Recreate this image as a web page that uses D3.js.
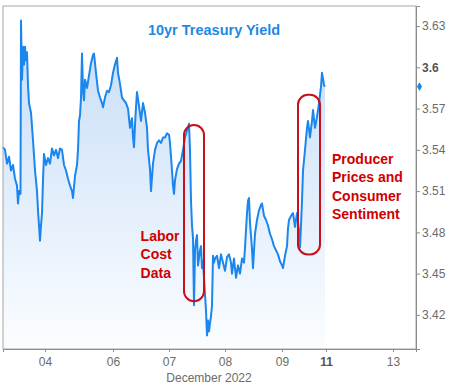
<!DOCTYPE html>
<html>
<head>
<meta charset="utf-8">
<script src="https://cdn.jsdelivr.net/npm/d3@7"></script>
<style>
  body { margin: 0; background: #fff; }
  text { font-family: "Liberation Sans", Arial, sans-serif; }
  .axis text { fill: #6b6b6b; font-size: 12px; }
  .note { fill: #d00000; font-size: 14px; font-weight: bold; }
</style>
</head>
<body>
<div id="chart"></div>
<script>
var width = 450, height = 385,
    plot = { left: 3, right: 416, top: 6, bottom: 349 };

// session steps along the x axis (weekends squeezed out, like the original chart)
var steps = [0, 1, 2, 3, 4, 5, 6, 7, 7.5, 8, 8.75, 9, 9.5, 10, 10.5, 11, 11.5, 12, 12.5, 13,
    14, 15, 16, 17, 17.5, 18, 18.5, 19, 19.5, 20, 20.5, 21.5, 22.5, 23.5, 24.5, 25.5, 26.5,
    27.5, 28.5, 29.5, 30.5, 31.5, 32.5, 33.5, 34.5, 35, 36, 37, 37.5, 38, 38.5, 39, 39.5, 40,
    40.5, 41, 42, 43, 44, 45, 45.5, 46.5, 47.5, 48.5, 49.5, 50, 51, 52, 53, 54, 55, 56, 57,
    57.5, 58.5, 59.5, 60.5, 61.5, 62.5, 63.5, 64.5, 65, 65.5, 66, 66.5, 67, 68, 69, 70, 71, 72,
    72.5, 73.5, 74, 75, 76, 77, 78, 79, 80, 81, 82, 83, 83.5, 84.5, 85, 85.5, 86, 87, 88, 89,
    90, 91, 92, 93, 93.5, 94, 94.5, 95, 95.5, 96, 96.5, 97, 97.5, 98.5, 99, 99.5, 100, 100.5,
    101, 101.5, 102, 102.5, 103, 103.5, 104, 104.5, 105, 105.5, 106, 107, 108, 109, 110, 111,
    112, 113, 114, 114.5, 115.5, 116.5, 117.5, 118.5, 119.5, 120.5, 121, 122, 122.5, 123,
    123.5, 124.5, 125, 126, 127, 128, 129, 129.5, 130.5, 131.5, 132.5, 133.5, 134.5, 135.5,
    136.5, 137.5, 138.5, 139.5, 140, 141, 142, 142.5, 143, 144, 145, 146, 147, 148, 148.5,
    149, 149.5, 150, 151, 152, 152.5, 153.5, 154.5, 155, 156, 157, 158, 159, 159.5, 160,
    160.5, 161];

var yields = [3.542, 3.540, 3.530, 3.535, 3.525, 3.529, 3.519, 3.514, 3.501, 3.510, 3.508,
    3.634, 3.591, 3.615, 3.602, 3.615, 3.605, 3.611, 3.587, 3.574,
    3.567, 3.547, 3.525, 3.510, 3.496, 3.485, 3.474, 3.485, 3.494, 3.518, 3.537, 3.529, 3.534,
    3.530, 3.541, 3.536, 3.540, 3.534, 3.541, 3.540, 3.529, 3.525, 3.519, 3.514, 3.510, 3.505,
    3.521, 3.529, 3.540, 3.561, 3.565, 3.578, 3.610, 3.583,
    3.576, 3.591, 3.585, 3.594, 3.603, 3.609, 3.610, 3.596, 3.583, 3.578, 3.574, 3.571, 3.578,
    3.583, 3.582, 3.587, 3.596, 3.602, 3.607,
    3.596, 3.588, 3.578, 3.576, 3.574, 3.570, 3.556, 3.563, 3.549, 3.542, 3.558, 3.571, 3.582,
    3.572, 3.561, 3.574, 3.567, 3.556,
    3.540, 3.526, 3.510, 3.530, 3.540, 3.545, 3.547, 3.545, 3.549, 3.549, 3.552, 3.551, 3.545,
    3.525, 3.514, 3.508, 3.518, 3.526, 3.530, 3.532,
    3.540, 3.549, 3.554, 3.559, 3.540, 3.503, 3.485, 3.476, 3.427, 3.467, 3.474, 3.478, 3.456,
    3.467, 3.470, 3.454, 3.459, 3.447,
    3.435, 3.423, 3.405, 3.416, 3.408, 3.414, 3.419, 3.427, 3.463, 3.458, 3.461, 3.463, 3.454,
    3.464, 3.458, 3.452,
    3.462, 3.464, 3.458, 3.450, 3.461, 3.447, 3.456, 3.450, 3.461, 3.458, 3.469, 3.494, 3.503,
    3.505,
    3.487, 3.468, 3.454, 3.479, 3.489, 3.496, 3.500, 3.501, 3.492, 3.489, 3.485, 3.479, 3.475,
    3.470,
    3.467, 3.464, 3.459, 3.456, 3.454, 3.463, 3.470, 3.483, 3.489, 3.492, 3.494, 3.484, 3.494,
    3.481, 3.469,
    3.485, 3.503, 3.525, 3.540, 3.556, 3.561, 3.549, 3.561, 3.569, 3.556, 3.564, 3.574, 3.586,
    3.596, 3.592,
    3.587, 3.586];

var tickSteps = [21, 55, 83, 111, 139.5, 161.5, 195],
    tickLabels = ["04", "06", "07", "08", "09", "11", "13"],
    yTicks = [3.42, 3.45, 3.48, 3.51, 3.54, 3.57, 3.6, 3.63],
    lastYield = 3.586;

// red call-out boxes: [step from, step to, yield low, yield high]
var boxes = [[90.5, 100.5, 3.430, 3.558], [147.5, 158.5, 3.464, 3.580]];
var notes = [
    { lines: ["Labor", "Cost", "Data"], step: 68.8, y: 3.474 },
    { lines: ["Producer", "Prices and", "Consumer", "Sentiment"], step: 164.5, y: 3.530 }
];

var data = steps.map(function(s, i) { return { s: s, v: yields[i] }; });

var x = d3.scaleLinear().domain([0, 206.5]).range([plot.left, plot.right]);
var y = d3.scaleLinear().domain([3.3952, 3.6446]).range([plot.bottom, plot.top]);

var svg = d3.select("#chart").append("svg")
    .attr("width", width)
    .attr("height", height);

var grad = svg.append("defs").append("linearGradient")
    .attr("id", "fillGrad")
    .attr("gradientUnits", "userSpaceOnUse")
    .attr("x1", 0).attr("x2", 0)
    .attr("y1", y(3.63)).attr("y2", plot.bottom);
grad.append("stop").attr("offset", 0).attr("stop-color", "#c6ddf7");
grad.append("stop").attr("offset", 1).attr("stop-color", "#fbfdff");

svg.append("path")
    .datum(data)
    .attr("fill", "url(#fillGrad)")
    .attr("d", d3.area()
        .x(function(d) { return x(d.s); })
        .y0(plot.bottom)
        .y1(function(d) { return y(d.v); }));

svg.append("path")
    .datum(data)
    .attr("fill", "none")
    .attr("stroke", "#1a86ee")
    .attr("stroke-width", 2)
    .attr("stroke-linejoin", "round")
    .attr("d", d3.line()
        .x(function(d) { return x(d.s); })
        .y(function(d) { return y(d.v); }));

// frame
svg.append("rect")
    .attr("x", plot.left).attr("y", plot.top)
    .attr("width", plot.right - plot.left)
    .attr("height", plot.bottom - plot.top)
    .attr("fill", "none")
    .attr("stroke", "#a6a6a6");

// right axis
var yAxis = svg.append("g")
    .attr("class", "axis")
    .attr("transform", "translate(" + plot.right + ",0)")
    .call(d3.axisRight(y).tickValues(yTicks).tickSize(4).tickPadding(2)
        .tickFormat(function(d) { return d === 3.6 ? "3.6" : d3.format(".2f")(d); }));
yAxis.select(".domain").attr("stroke", "#8c8c8c");
yAxis.selectAll(".tick line").attr("stroke", "#8c8c8c");
yAxis.selectAll(".tick text")
    .style("font-weight", function(d) { return d === 3.6 ? "bold" : "normal"; })
    .style("fill", function(d) { return d === 3.6 ? "#555" : "#6b6b6b"; });

// bottom axis
var xAxis = svg.append("g")
    .attr("class", "axis")
    .attr("transform", "translate(0," + plot.bottom + ")")
    .call(d3.axisBottom(x).tickValues(tickSteps).tickSize(3).tickPadding(5)
        .tickFormat(function(d, i) { return tickLabels[i]; }));
xAxis.select(".domain").attr("stroke", "#8c8c8c");
xAxis.selectAll(".tick line").attr("stroke", "#8c8c8c");
xAxis.selectAll(".tick text")
    .style("font-weight", function(d, i) { return tickLabels[i] === "11" ? "bold" : "normal"; })
    .style("fill", function(d, i) { return tickLabels[i] === "11" ? "#555" : "#6b6b6b"; });

svg.append("text")
    .attr("x", 209)
    .attr("y", 382)
    .attr("text-anchor", "middle")
    .style("font-size", "12px")
    .style("fill", "#6b6b6b")
    .text("December 2022");

// current value marker
svg.append("path")
    .attr("d", d3.symbol().type(d3.symbolDiamond).size(22))
    .attr("transform", "translate(" + (plot.right + 3.5) + "," + y(lastYield) + ")")
    .attr("fill", "#1a86ee");

// title
svg.append("text")
    .attr("x", 214)
    .attr("y", 35)
    .attr("text-anchor", "middle")
    .style("font-size", "14.5px")
    .style("font-weight", "bold")
    .style("fill", "#1e88e5")
    .text("10yr Treasury Yield");

// call-outs
svg.selectAll(".box")
    .data(boxes)
    .enter().append("rect")
    .attr("class", "box")
    .attr("x", function(d) { return x(d[0]); })
    .attr("y", function(d) { return y(d[3]); })
    .attr("width", function(d) { return x(d[1]) - x(d[0]); })
    .attr("height", function(d) { return y(d[2]) - y(d[3]); })
    .attr("rx", 10)
    .attr("ry", 10)
    .attr("fill", "none")
    .attr("stroke", "#c8101a")
    .attr("stroke-width", 2);

notes.forEach(function(n) {
    var t = svg.append("text")
        .attr("class", "note")
        .attr("x", x(n.step))
        .attr("y", y(n.y));
    t.selectAll("tspan")
        .data(n.lines)
        .enter().append("tspan")
        .attr("x", x(n.step))
        .attr("dy", function(d, i) { return i === 0 ? 0 : 18.5; })
        .text(function(d) { return d; });
});
</script>
</body>
</html>
